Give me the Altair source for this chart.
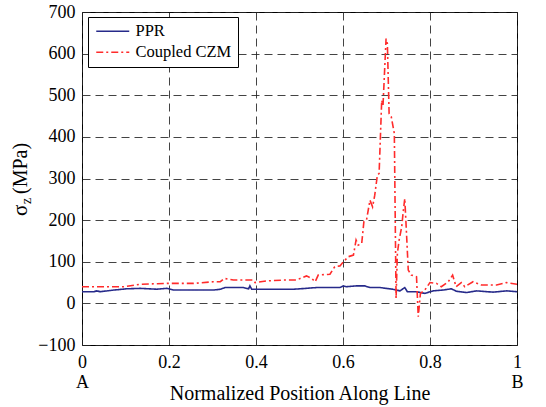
import altair as alt
import pandas as pd

# ---- data ----
series_names = ["PPR", "Coupled CZM"]

ppr_x = [0.0, 0.027, 0.034, 0.042, 0.073, 0.103, 0.134, 0.172, 0.195, 0.210, 0.241,
         0.302, 0.318, 0.329, 0.371, 0.383, 0.386, 0.390, 0.425, 0.486, 0.501, 0.539,
         0.593, 0.601, 0.608, 0.631, 0.650, 0.662, 0.685, 0.715, 0.731, 0.742, 0.748,
         0.769, 0.788, 0.807, 0.830, 0.849, 0.861, 0.884, 0.907, 0.945, 0.976, 1.0]
ppr_y = [28, 28, 30, 28, 32, 35, 36, 34, 36, 32, 32,
         32, 34, 38, 38, 35, 42, 34, 34, 34, 35, 38,
         38, 42, 40, 42, 42, 38, 38, 34, 30, 38, 28,
         28, 24, 30, 32, 35, 29, 26, 30, 27, 30, 28]

czm_x = [0.0, 0.096, 0.134, 0.195, 0.256, 0.302, 0.318, 0.327, 0.348, 0.394, 0.398,
         0.425, 0.463, 0.493, 0.516, 0.528, 0.536, 0.543, 0.570, 0.581, 0.593, 0.601,
         0.612, 0.624, 0.630, 0.635, 0.643, 0.648, 0.654, 0.662, 0.668, 0.673, 0.679,
         0.683, 0.689, 0.692, 0.699, 0.702, 0.706, 0.711, 0.718, 0.722, 0.725, 0.729,
         0.735, 0.738, 0.742, 0.746, 0.750, 0.757, 0.769, 0.773, 0.778, 0.788, 0.800,
         0.815, 0.826, 0.842, 0.852, 0.860, 0.872, 0.880, 0.899, 0.918, 0.953, 0.976, 1.0]
czm_y = [40, 40, 46, 48, 48, 52, 52, 60, 56, 56, 50,
         54, 56, 56, 66, 60, 52, 68, 70, 88, 90, 100,
         112, 116, 152, 140, 144, 196, 200, 248, 232, 260, 308,
         312, 488, 476, 636, 624, 456, 448, 408, 12, 120, 152,
         184, 216, 252, 168, 80, 68, 64, -32, 24, 32, 50,
         48, 40, 52, 68, 40, 50, 40, 52, 44, 44, 50, 46]

x_ticks = [0, 0.2, 0.4, 0.6, 0.8, 1]
y_ticks = [-100, 0, 100, 200, 300, 400, 500, 600, 700]

df = pd.concat([
    pd.DataFrame({"x": ppr_x, "y": ppr_y, "series": series_names[0]}),
    pd.DataFrame({"x": czm_x, "y": czm_y, "series": series_names[1]}),
], ignore_index=True)

SERIF = "Liberation Serif"
BLUE = "#262a8a"
RED = "#ff2b2b"

lines = alt.Chart(df).mark_line(strokeWidth=1.6, clip=True).encode(
    x=alt.X("x:Q",
            scale=alt.Scale(domain=[0, 1], nice=False, zero=False),
            axis=alt.Axis(values=x_ticks,
                          labelExpr="datum.value == 0 ? ['0', 'A'] : datum.value == 1 ? ['1', 'B'] : datum.label",
                          title="Normalized Position Along Line",
                          titleY=54, titleBaseline="alphabetic",
                          labelLineHeight=20, labelPadding=8)),
    y=alt.Y("y:Q",
            scale=alt.Scale(domain=[-100, 700], nice=False, zero=False),
            axis=alt.Axis(values=y_ticks, title=None, labelPadding=7)),
    color=alt.Color("series:N",
                    scale=alt.Scale(domain=series_names, range=[BLUE, RED]),
                    sort=series_names,
                    legend=alt.Legend(title=None, orient="none", legendX=6, legendY=5)),
    strokeDash=alt.StrokeDash("series:N",
                              scale=alt.Scale(domain=series_names, range=[[1, 0], [7, 3, 2, 3]]),
                              sort=series_names,
                              legend=alt.Legend(title=None, orient="none", legendX=6, legendY=5)),
    order="x:Q",
)

t_sigma = alt.Chart().mark_text(text="σ", angle=270, align="left", baseline="alphabetic",
                                font=SERIF, fontSize=21, color="black").encode(
    x=alt.value(-55), y=alt.value(204))
t_z = alt.Chart().mark_text(text="z", angle=270, align="left", baseline="alphabetic",
                            font=SERIF, fontSize=14, color="black").encode(
    x=alt.value(-51), y=alt.value(192))
t_mpa = alt.Chart().mark_text(text="(MPa)", angle=270, align="left", baseline="alphabetic",
                              font=SERIF, fontSize=20, color="black").encode(
    x=alt.value(-55), y=alt.value(182))

chart = alt.layer(lines, t_sigma, t_z, t_mpa).properties(
    width=435, height=333,
    autosize="none",
    padding={"left": 82, "top": 12, "right": 29, "bottom": 62},
    background="white",
).configure_view(
    stroke="black", strokeWidth=1
).configure_axis(
    labelFont=SERIF, labelFontSize=18, labelColor="black",
    titleFont=SERIF, titleFontSize=20, titleFontWeight="normal", titleColor="black",
    grid=True, gridColor="#222222", gridDash=[8, 5], gridWidth=1, gridOpacity=0.85,
    ticks=False, domain=False, labelOverlap=False, labelFlush=False,
).configure_legend(
    fillColor="white", strokeColor="black", padding=6,
    symbolType="M-1,0H4.5", symbolSize=144, symbolStrokeWidth=1.6,
    labelFont=SERIF, labelFontSize=16.5, labelColor="black",
    labelOffset=25, rowPadding=4, cornerRadius=0,
)

chart.save("out.html", embed_options={"renderer": "svg", "actions": False})
